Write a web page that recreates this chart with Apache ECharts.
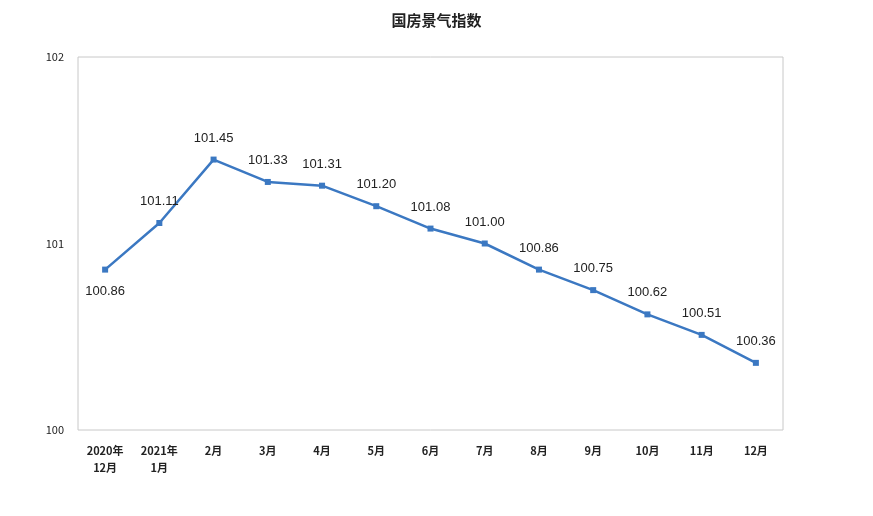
<!DOCTYPE html>
<html>
<head>
<meta charset="utf-8">
<script src="https://cdn.jsdelivr.net/npm/echarts@6/dist/echarts.min.js"></script>
<style>html,body{margin:0;padding:0;background:#fff}#chart{width:873px;height:516px}</style>
</head>
<body>
<div id="chart"></div>
<script>
var categories = ['2020年\n12月', '2021年\n1月', '2月', '3月', '4月', '5月', '6月', '7月', '8月', '9月', '10月', '11月', '12月'];
var values = [100.86, 101.11, 101.45, 101.33, 101.31, 101.20, 101.08, 101.00, 100.86, 100.75, 100.62, 100.51, 100.36];
var labelPos = ['bottom', 'top', 'top', 'top', 'top', 'top', 'top', 'top', 'top', 'top', 'top', 'top', 'top'];

var chart = echarts.init(document.getElementById('chart'), null, { renderer: 'canvas' });
var font = '"Noto Sans CJK SC", sans-serif';

chart.setOption({
  animation: false,
  title: {
    text: '国房景气指数',
    left: 'center',
    top: 8,
    textStyle: { fontFamily: font, fontSize: 15, fontWeight: 'bold', color: '#222' }
  },
  grid: { left: 78, right: 90, top: 57, bottom: 86, show: true, borderColor: '#c8c8c8', borderWidth: 1 },
  xAxis: {
    type: 'category',
    data: categories,
    axisLine: { show: false },
    axisTick: { show: false },
    axisLabel: { color: '#222', fontFamily: font, fontSize: 11, fontWeight: 'bold', lineHeight: 17, margin: 12, interval: 0 }
  },
  yAxis: {
    type: 'value',
    min: 100,
    max: 102,
    interval: 1,
    splitLine: { show: false },
    axisLine: { show: false },
    axisTick: { show: false },
    axisLabel: { color: '#222', fontFamily: font, fontSize: 11, margin: 14 }
  },
  series: [{
    type: 'line',
    data: values.map(function (v, i) {
      return { value: v, label: { position: labelPos[i] } };
    }),
    symbol: 'rect',
    symbolSize: 6,
    lineStyle: { color: '#3b78c2', width: 2.5 },
    itemStyle: { color: '#3b78c2' },
    label: {
      show: true,
      distance: 12,
      color: '#222',
      fontFamily: 'Liberation Sans, Arial, sans-serif',
      fontSize: 13,
      formatter: function (p) { return p.value.toFixed(2); }
    }
  }]
});
</script>
</body>
</html>
